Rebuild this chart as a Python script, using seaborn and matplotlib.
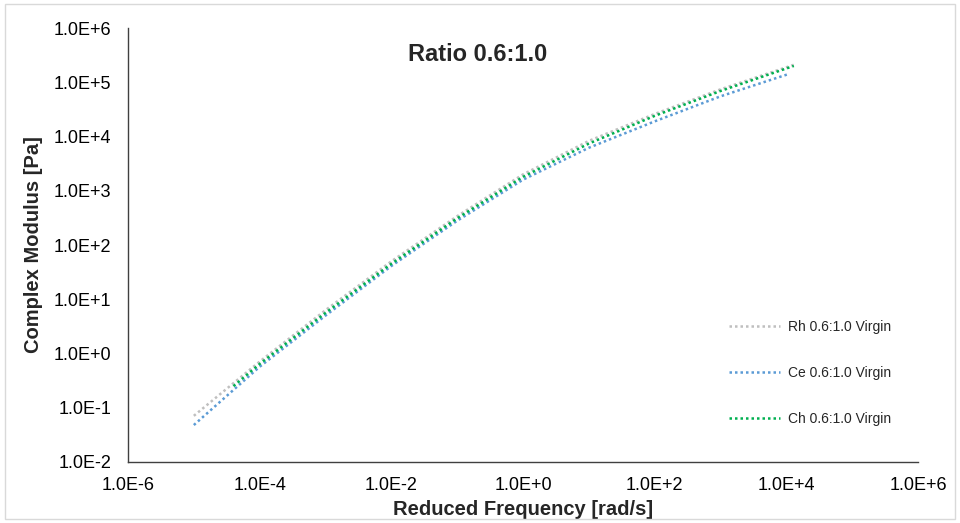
import numpy as np
import pandas as pd
import matplotlib
matplotlib.use("Agg")
import matplotlib.pyplot as plt
from matplotlib.ticker import FixedLocator, FuncFormatter, NullLocator
from matplotlib.patches import Rectangle
import seaborn as sns

# master curves (reduced frequency [rad/s], |G*| [Pa])
rh_freq = [1.0e-5, 1.0e-4, 1.0e-3, 1.0e-2, 1.0e-1, 1.0, 10.0, 100.0, 1.0e3, 1.3e4]
rh_mod = [0.071, 0.71, 6.3, 50, 340, 2.0e3, 8.3e3, 2.6e4, 7.4e4, 2.1e5]

ce_freq = [1.0e-5, 1.0e-4, 1.0e-3, 1.0e-2, 1.0e-1, 1.0, 10.0, 100.0, 1.0e3, 1.05e4]
ce_mod = [0.048, 0.57, 5.0, 41, 280, 1.6e3, 6.2e3, 1.9e4, 5.5e4, 1.4e5]

ch_freq = [4.0e-5, 1.0e-4, 1.0e-3, 1.0e-2, 1.0e-1, 1.0, 10.0, 100.0, 1.0e3, 1.3e4]
ch_mod = [0.25, 0.64, 5.6, 45, 310, 1.8e3, 7.4e3, 2.4e4, 6.9e4, 2.0e5]

series_names = ["Rh 0.6:1.0 Virgin", "Ce 0.6:1.0 Virgin", "Ch 0.6:1.0 Virgin"]
series_colors = ["#BFBFBF", "#5B9BD5", "#00B050"]

x_ticks = [1e-6, 1e-4, 1e-2, 1e0, 1e2, 1e4, 1e6]
y_ticks = [1e-2, 1e-1, 1e0, 1e1, 1e2, 1e3, 1e4, 1e5, 1e6]

frames = []
for name, f, m in zip(series_names, [rh_freq, ce_freq, ch_freq], [rh_mod, ce_mod, ch_mod]):
    frames.append(pd.DataFrame({"freq": f, "modulus": m, "series": name}))
df = pd.concat(frames, ignore_index=True)

sns.set_style("white")
plt.rcParams["font.family"] = ["Liberation Sans", "DejaVu Sans"]

fig = plt.figure(figsize=(9.6, 5.23), dpi=100)
ax = fig.add_axes([128 / 960, 61 / 523, 790 / 960, 434 / 523])

sns.lineplot(data=df, x="freq", y="modulus", hue="series", hue_order=series_names,
             palette=series_colors, estimator=None, sort=False, legend=False, ax=ax)

for line, name in zip(ax.lines, series_names):
    line.set_linestyle((0, (1, 1.2)))
    line.set_linewidth(1.8)
    line.set_label(name)

ax.set_xscale("log")
ax.set_yscale("log")
ax.set_xlim(1e-6, 1e6)
ax.set_ylim(1e-2, 1e6)


def sci_fmt(v, pos):
    e = int(np.floor(np.log10(v) + 1e-9))
    mant = v / 10 ** e
    return f"{mant:.1f}E{e:+d}"


ax.xaxis.set_major_locator(FixedLocator(x_ticks))
ax.yaxis.set_major_locator(FixedLocator(y_ticks))
ax.xaxis.set_minor_locator(NullLocator())
ax.yaxis.set_minor_locator(NullLocator())
ax.xaxis.set_major_formatter(FuncFormatter(sci_fmt))
ax.yaxis.set_major_formatter(FuncFormatter(sci_fmt))
ax.tick_params(axis="both", length=0, labelsize=13, colors="#000000")
ax.tick_params(axis="x", pad=11)
ax.tick_params(axis="y", pad=12)

for side in ["top", "right"]:
    ax.spines[side].set_visible(False)
for side in ["left", "bottom"]:
    ax.spines[side].set_color("#404040")
    ax.spines[side].set_linewidth(1.0)

ax.set_xlabel("Reduced Frequency [rad/s]", fontsize=14.5, fontweight="bold", labelpad=4)
ax.set_ylabel("Complex Modulus [Pa]", fontsize=14.5, fontweight="bold", labelpad=8)
ax.text(0.443, 0.94, "Ratio 0.6:1.0", transform=ax.transAxes, ha="center", va="center",
        fontsize=17, fontweight="bold")

ax.legend(loc="center left", bbox_to_anchor=(0.761, 0.205), frameon=False, fontsize=10,
          handlelength=3.65, handletextpad=0.6, labelspacing=2.3, borderpad=0,
          borderaxespad=0)

fig.patches.append(Rectangle((5 / 960, 4 / 523), 950 / 960, 515 / 523, transform=fig.transFigure,
                             fill=False, edgecolor="#D9D9D9", linewidth=1.0))

fig.savefig("out.png", dpi=100)
